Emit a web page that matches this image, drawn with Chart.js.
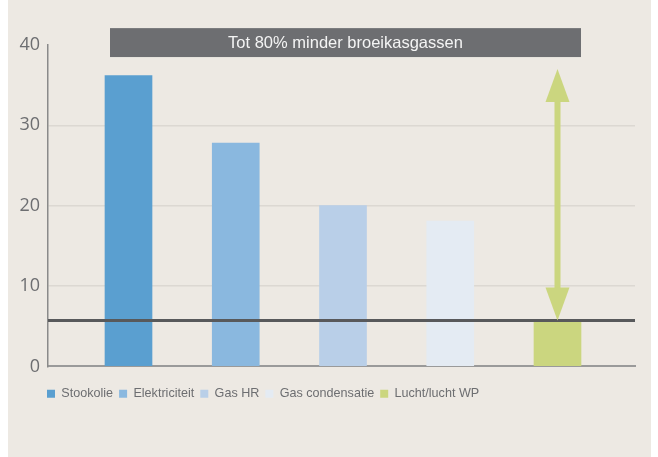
<!DOCTYPE html>
<html>
<head>
<meta charset="utf-8">
<script src="https://cdn.jsdelivr.net/npm/chart.js@4"></script>
<style>
  html,body{margin:0;padding:0;background:#fff;}
  #wrap{position:absolute;left:8px;top:0;width:643px;height:457px;background:#ede9e3;}
</style>
</head>
<body>
<div id="wrap"><canvas id="c" width="643" height="457"></canvas></div>
<script>
const categories = ['Stookolie','Elektriciteit','Gas HR','Gas condensatie','Lucht/lucht WP'];
const values     = [36.2, 27.8, 20.0, 18.1, 5.7];
const colors     = ['#5a9fd0','#8ab8df','#b9cfe8','#e4ebf3','#cbd67f'];
const yMax       = 40;
const yStep      = 10;
const refLevel   = 5.7;
const arrowTop   = 37.0;
const bannerText = 'Tot 80% minder broeikasgassen';

const overlay = {
  id:'overlay',
  afterLayout(chart){
    // legend starts under the y axis, not at the canvas edge
    if (chart.legend) chart.legend.left += 33;
  },
  afterDatasetsDraw(chart){
    const {ctx, scales:{x, y}, chartArea:a} = chart;
    ctx.save();
    // reference line
    const ly = y.getPixelForValue(refLevel);
    ctx.strokeStyle = '#58595b'; ctx.lineWidth = 3;
    ctx.beginPath(); ctx.moveTo(a.left, ly); ctx.lineTo(a.right, ly); ctx.stroke();

    // double arrow above the last bar
    const ax = x.getPixelForValue(values.length - 1);
    const top = y.getPixelForValue(arrowTop), bot = ly;
    const hw = 12, hl = 33;
    ctx.fillStyle = '#cbd67f';
    ctx.fillRect(ax - 3, top + hl - 2, 6, bot - top - 2*hl + 4);
    ctx.beginPath(); ctx.moveTo(ax, top); ctx.lineTo(ax + hw, top + hl); ctx.lineTo(ax - hw, top + hl); ctx.closePath(); ctx.fill();
    ctx.beginPath(); ctx.moveTo(ax, bot); ctx.lineTo(ax + hw, bot - hl); ctx.lineTo(ax - hw, bot - hl); ctx.closePath(); ctx.fill();

    // banner
    const bx1 = x.getPixelForValue(-0.1725), bx2 = x.getPixelForValue(4.219);
    const by1 = y.getPixelForValue(42.1), by2 = y.getPixelForValue(38.5);
    ctx.fillStyle = '#6d6e71';
    ctx.fillRect(bx1, by1, bx2 - bx1, by2 - by1);
    ctx.fillStyle = '#f4f4f4';
    ctx.font = '16.5px "Liberation Sans", Arial, sans-serif';
    ctx.textAlign = 'center'; ctx.textBaseline = 'middle';
    ctx.fillText(bannerText, (bx1 + bx2)/2, (by1 + by2)/2 + 1);
    ctx.restore();
  }
};

new Chart(document.getElementById('c'), {
  type:'bar',
  data:{
    datasets: categories.map((c,i)=>({
      label:c,
      data:[{x:i, y:values[i]}],
      backgroundColor:colors[i],
      barThickness:47,
      grouped:false
    }))
  },
  options:{
    responsive:false,
    animation:false,
    layout:{ padding:{ top:45, left:0, right:16, bottom:47 } },
    plugins:{
      tooltip:{ enabled:false },
      legend:{
        position:'bottom', align:'start',
        labels:{ boxWidth:8, boxHeight:8, padding:6, color:'#6d6e71',
                 font:{ family:'"Liberation Sans", Arial, sans-serif', size:12.6 } }
      }
    },
    scales:{
      x:{
        type:'linear', min:-0.7506, max:4.7226, offset:false,
        ticks:{ display:false },
        grid:{ display:false },
        border:{ color:'#9a9a9a', width:2 },
        afterFit(s){ s.height = 15; }
      },
      y:{
        min:0, max:yMax,
        ticks:{ stepSize:yStep, padding:8, color:'#6d6e71', font:{ family:'"Open Sans", sans-serif', size:18 } },
        grid:{ drawTicks:false, lineWidth:1.5, color:c => (c.tick && c.tick.value > 0 && c.tick.value < yMax) ? '#dcd8d2' : 'rgba(0,0,0,0)' },
        border:{ color:'#8a8a8a', width:1.5 },
        afterFit(s){ s.width = 40; }
      }
    }
  },
  plugins:[overlay]
});
</script>
</body>
</html>
